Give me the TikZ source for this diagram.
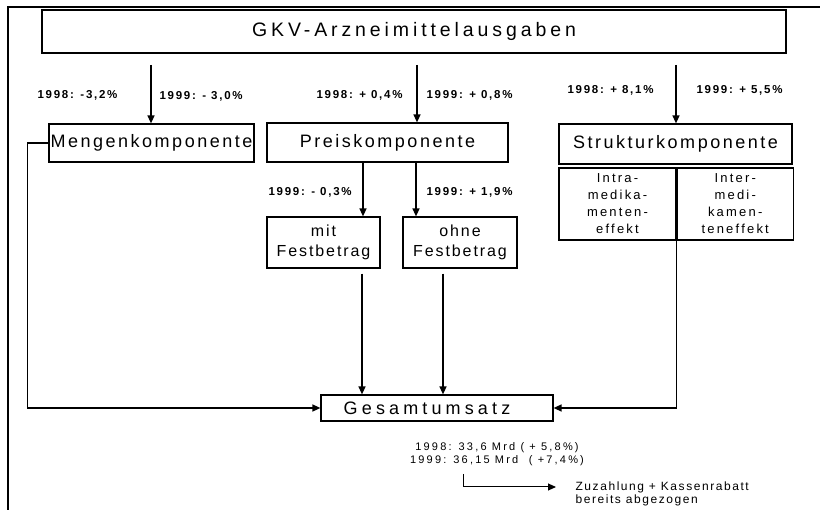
\documentclass[tikz,border=0pt]{standalone}
\usepackage{fontspec}
\setmainfont{Liberation Sans}
\usetikzlibrary{arrows.meta,positioning}

\begin{document}
\begin{tikzpicture}[x=1pt, y=-1pt, >={Triangle[length=8pt,width=7pt]}, line width=1.2pt,
    kasten/.style={draw, rectangle, inner sep=0pt, align=center},
    komp/.style={kasten, font=\fontsize{18}{21}\selectfont\addfontfeature{LetterSpace=14}},
    zahl/.style={inner sep=0pt, font=\fontsize{11.5}{13}\selectfont\bfseries\addfontfeature{LetterSpace=15}},
    pfeil/.style={->, line width=1.4pt}]

    \useasboundingbox (0,0) rectangle (820,510);

    % Rahmen
    \draw[line width=2pt] (8,510) -- (8,7) -- (820,7);

    % Define nodes
    \node (titel) [kasten, minimum width=744pt, minimum height=43pt, font=\fontsize{19.5}{24}\selectfont\addfontfeature{LetterSpace=20}] at (414,31.5) {GKV-Arzneimittelausgaben};
    \node (menge) [komp, minimum width=205pt, minimum height=38pt] at (151.5,143) {Mengenkomponente};
    \node (preis) [komp, minimum width=241pt, minimum height=39pt] at (387.5,142.5) {Preiskomponente};
    \node (struktur) [komp, minimum width=233pt, minimum height=40pt] at (675.5,144) {Strukturkomponente};
    \node (intra) [kasten, minimum width=117pt, minimum height=72pt, font=\fontsize{13}{17}\selectfont\addfontfeature{LetterSpace=17}] at (617.5,204) {Intra-\\medika-\\menten-\\effekt};
    \node (inter) [kasten, minimum width=116pt, minimum height=72pt, font=\fontsize{13}{17}\selectfont\addfontfeature{LetterSpace=17}, right=0pt of intra] {Inter-\\medi-\\kamen-\\teneffekt};
    \node (mit) [kasten, minimum width=113pt, minimum height=51pt, font=\fontsize{16}{20}\selectfont\addfontfeature{LetterSpace=12}] at (323.5,242.5) {mit\\Festbetrag};
    \node (ohne) [kasten, minimum width=114pt, minimum height=51pt, font=\fontsize{16}{20}\selectfont\addfontfeature{LetterSpace=12}] at (460,242.5) {ohne\\Festbetrag};
    \node (gesamt) [kasten, minimum width=232pt, minimum height=26pt, font=\fontsize{18}{21}\selectfont\addfontfeature{LetterSpace=23}] at (437,408) {Gesamtumsatz\hspace*{20pt}};

    % Zahlen
    \node (m98) [zahl, anchor=west] at (37,95) {1998: -3,2\%};
    \node (m99) [zahl, anchor=west] at (159,96) {1999: - 3,0\%};
    \node (p98) [zahl, anchor=west] at (316,95) {1998: + 0,4\%};
    \node (p99) [zahl, anchor=west] at (426,95) {1999: + 0,8\%};
    \node (s98) [zahl, anchor=west] at (567,90) {1998: + 8,1\%};
    \node (s99) [zahl, anchor=west] at (696,90) {1999: + 5,5\%};
    \node (mit99) [zahl, anchor=west] at (268,192) {1999: - 0,3\%};
    \node (ohne99) [zahl, anchor=west] at (426,192) {1999: + 1,9\%};
    \node (umsatz) [inner sep=0pt, align=center, font=\fontsize{11}{13}\selectfont\addfontfeature{LetterSpace=20}] at (497,454) {1998: 33,6 Mrd ( + 5,8\%)\\1999: 36,15 Mrd~~( +7,4\%)};
    \node (hinweis) [inner sep=0pt, align=left, anchor=north west, font=\fontsize{12}{13.5}\selectfont\addfontfeature{LetterSpace=13}] at (575,481) {Zuzahlung + Kassenrabatt\\bereits abgezogen};

    % freie Enden
    \coordinate (m0) at (151,65);
    \coordinate (p0) at (417,65);
    \coordinate (s0) at (676,65);
    \coordinate (h0) at (463,474);
    \coordinate (h1) at (556,487);

    % Pfeile
    \draw[pfeil] (m0) -- (m0 |- menge.north);
    \draw[pfeil] (p0) -- (p0 |- preis.north);
    \draw[pfeil] (s0) -- (s0 |- struktur.north);
    \draw[pfeil] ([xshift=-24.5pt]preis.south) -- ([xshift=-24.5pt]preis.south |- mit.north);
    \draw[pfeil] ([xshift=28.5pt]preis.south) -- ([xshift=28.5pt]preis.south |- ohne.north);
    \draw[pfeil] ([xshift=38.5pt, yshift=-5pt]mit.south) -- ([xshift=38.5pt]mit.south |- gesamt.north);
    \draw[pfeil] ([xshift=-17pt, yshift=-5pt]ohne.south) -- ([xshift=-17pt]ohne.south |- gesamt.north);
    \draw[pfeil] (menge.west) -- ++(-21,0) |- (gesamt.west);
    \draw[pfeil] (intra.south east) |- (gesamt.east);
    \draw[pfeil, line width=1pt] (h0) |- (h1);

\end{tikzpicture}
\end{document}
